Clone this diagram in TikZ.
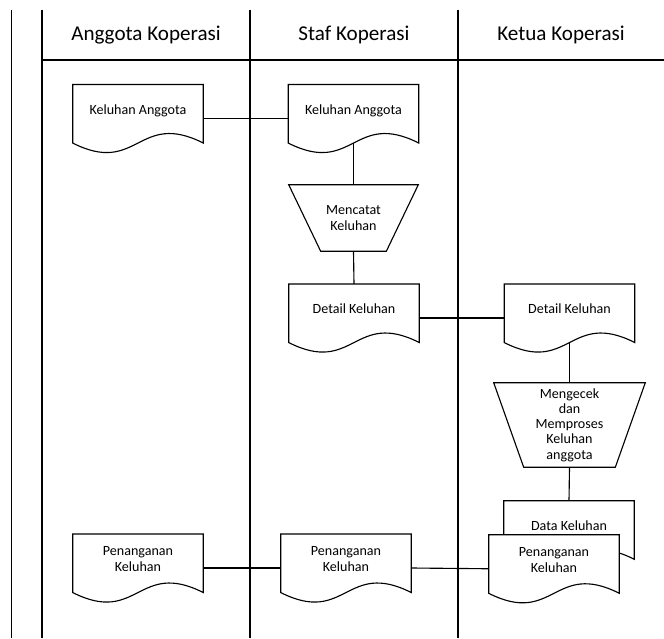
\documentclass[tikz,border=0pt]{standalone}
\usepackage{fontspec}
\setmainfont{Carlito}
\usetikzlibrary{calc,backgrounds}

\begin{document}
\begin{tikzpicture}
       [x=0.025cm,y=-0.025cm,
        lane/.style={draw=black,line width=1.1pt},
        lanehead/.style={font=\fontsize{15}{18}\selectfont},
        doc/.style={minimum width=3.25cm,minimum height=1.6875cm,inner sep=0pt,
                    align=center,text depth=0.45cm,
                    font=\fontsize{10}{11.3}\selectfont},
        proc/.style={inner sep=0pt,align=center,
                     font=\fontsize{10}{10.8}\selectfont},
        outline/.style={draw=black,fill=white,line width=0.8pt},
        link/.style={draw=black,line width=0.8pt}]
       \useasboundingbox (0,0) rectangle (664,638);
       \draw[lane] (11.5,10) -- (11.5,638);
       \foreach \x in {42,250,458}
         \draw[lane] (\x,10) -- (\x,638);
       \draw[lane] (42,60) -- (664,60);
       \node[lanehead] (anggota) at (146,35) {Anggota Koperasi};
       \node[lanehead] (staf) at (354,35) {Staf Koperasi};
       \node[lanehead] (ketua) at (561,35) {Ketua Koperasi};

       \node[doc] (kA) at (138,118.5) {Keluhan Anggota};
       \node[doc] (kS) at (353.5,118.5) {Keluhan Anggota};
       \node[proc,minimum width=3.225cm,minimum height=1.65cm] (catat) at (353.5,218) {Mencatat\\Keluhan};
       \node[doc] (dS) at (354,318) {Detail Keluhan};
       \node[doc] (dK) at (569.5,318) {Detail Keluhan};
       \node[proc,minimum width=3.775cm,minimum height=2.1cm] (cek) at (569.5,425)
            {Mengecek\\dan\\Memproses\\Keluhan\\anggota};
       \node[doc] (dataK) at (569,534.75) {Data Keluhan};
       \node[doc] (pA) at (138,568) {Penanganan\\Keluhan};
       \node[doc] (pS) at (346,568) {Penanganan\\Keluhan};
       \node[doc] (pK) at (554,568.75) {Penanganan\\Keluhan};

       \begin{scope}[on background layer]
         \foreach \n in {kA,kS,dS,dK,dataK,pA,pS,pK} {
           \draw[outline] (\n.north west) -- (\n.north east) -- ($(\n.south east)+(0,-9.5)$)
             .. controls ($(\n.south)+(0,-42.5)$) and ($(\n.south)+(0,23.5)$) .. ($(\n.south west)+(0,-9.5)$) -- cycle;
           \coordinate (\n-w) at ($(\n.south)+(0,-9.5)$);
         }
         \foreach \n/\d in {catat/32,cek/30}
           \draw[outline] (\n.north west) -- (\n.north east) -- ($(\n.south east)+(-\d,0)$)
             -- ($(\n.south west)+(\d,0)$) -- cycle;
       \end{scope}

       \draw[link] (kA.east) -- (kS.west);
       \draw[link] (kS-w) -- (catat.north);
       \draw[link] (catat.south) -- (dS.north);
       \draw[link] (dS.east) -- (dK.west);
       \draw[link] (dK-w) -- (cek.north);
       \draw[link] (cek.south) -- (dataK.north);
       \draw[link] (pA.east) -- (pS.west);
       \draw[link] (pS.east) -- (pK.west);
\end{tikzpicture}
\end{document}
